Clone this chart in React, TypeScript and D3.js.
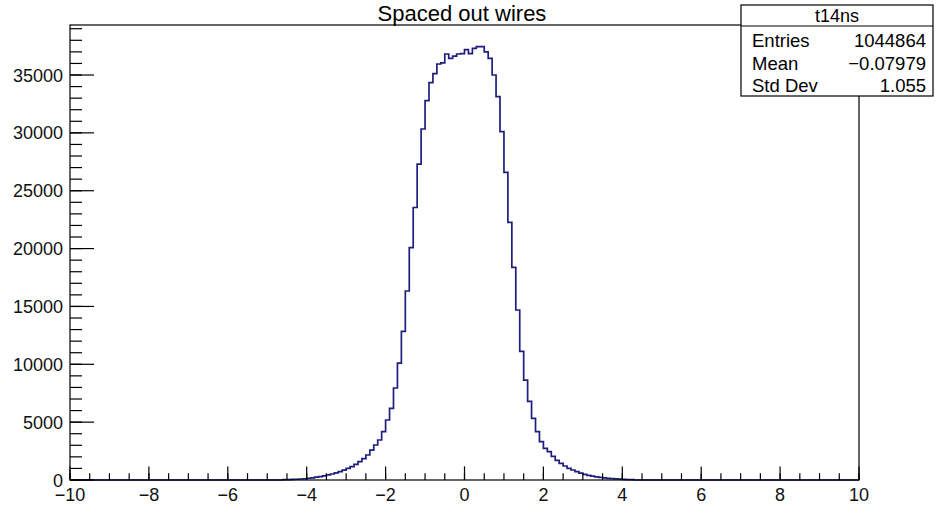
import React from "react";
import * as d3 from "d3";

// ---- Data ----
const titleText = "Spaced out wires";
const histName = "t14ns";
const statLabels = ["Entries", "Mean", "Std Dev"];
const statValues = ["1044864", "\u22120.07979", "1.055"];

const axisMin = -10;
const axisMax = 10;
const binWidth = 0.1;
// first non-empty bin lower edge; all other bins in [-10,10] are empty
const firstFilledEdge = -4.6;
const counts = [
  25, 35, 50, 65, 85, 110, 150, 190, 240, 300,
  360, 440, 520, 620, 730, 860, 1000, 1150, 1350, 1580,
  1850, 2160, 2590, 3025, 3457, 4180, 5185, 6193, 7950, 10100,
  12850, 16333, 20076, 23550, 27300, 30333, 32780, 34335, 35113, 35950,
  36050, 36815, 36440, 36640, 36815, 36850,
  37200, 36850, 37300, 37450, 37450, 37000, 36440, 35000, 33125, 30100,
  26580, 22260, 18380, 14690, 11120, 8640, 6800, 5330, 4180, 3310,
  2740, 2450, 2050, 1700, 1440, 1210, 1010, 865, 720, 590,
  480, 400, 330, 270, 220, 180, 145, 115, 90, 70,
  50, 35, 25,
];

const xMajorTicks = [-10, -8, -6, -4, -2, 0, 2, 4, 6, 8, 10];
const yMajorTicks = [0, 5000, 10000, 15000, 20000, 25000, 30000, 35000];

const fmtTick = (v: number) => (v < 0 ? "\u2212" + Math.abs(v) : String(v));

export default function App() {
  const W = 937;
  const H = 505;
  const left = 70;
  const right = 859;
  const top = 25;
  const bottom = 480;

  const nBins = Math.round((axisMax - axisMin) / binWidth);
  const firstIdx = Math.round((firstFilledEdge - axisMin) / binWidth);
  const bins: [number, number][] = [];
  for (let i = 0; i < nBins; i++) {
    const lo = axisMin + i * binWidth;
    const j = i - firstIdx;
    const c = j >= 0 && j < counts.length ? counts[j] : 0;
    bins.push([lo, c]);
  }
  bins.push([axisMax, 0]);

  const yMax = (d3.max(counts) as number) * 1.05;
  const x = d3.scaleLinear().domain([axisMin, axisMax]).range([left, right]);
  const y = d3.scaleLinear().domain([0, yMax]).range([bottom, top]);

  const line = d3
    .line<[number, number]>()
    .x((d) => x(d[0]))
    .y((d) => y(d[1]))
    .curve(d3.curveStepAfter);
  const histPath = line(bins) || "";

  const xMinor: number[] = [];
  for (let v = axisMin; v <= axisMax + 1e-9; v += 0.5) xMinor.push(v);
  const yMinor: number[] = [];
  for (let v = 0; v <= yMax; v += 1000) yMinor.push(v);

  const font = "'Liberation Sans', Arial, Helvetica, sans-serif";

  // stats box geometry
  const bx = 741, by = 5, bw = 192, bh = 91, hdr = 21;

  return (
    <div style={{ position: "absolute", left: 0, top: 0, width: W, height: H, background: "#fff" }}>
      <svg width={W} height={H} style={{ display: "block" }} fontFamily={font}>
        <rect x={0} y={0} width={W} height={H} fill="#fff" />
        {/* histogram */}
        <path d={histPath} fill="none" stroke="#1e1e7e" strokeWidth={1.7} strokeLinejoin="miter" />
        {/* frame */}
        <rect x={left} y={top} width={right - left} height={bottom - top} fill="none" stroke="#000" strokeWidth={1.2} />
        {/* x ticks */}
        {xMinor.map((v) => (
          <line key={"xm" + v} x1={x(v)} x2={x(v)} y1={bottom} y2={bottom - 6.8} stroke="#000" strokeWidth={1.2} />
        ))}
        {xMajorTicks.map((v) => (
          <line key={"xM" + v} x1={x(v)} x2={x(v)} y1={bottom} y2={bottom - 13.6} stroke="#000" strokeWidth={1.2} />
        ))}
        {xMajorTicks.map((v) => (
          <text key={"xl" + v} x={x(v)} y={501} fontSize={18} textAnchor="middle" fill="#111">
            {fmtTick(v)}
          </text>
        ))}
        {/* y ticks */}
        {yMinor.map((v) => (
          <line key={"ym" + v} x1={left} x2={left + 12} y1={y(v)} y2={y(v)} stroke="#000" strokeWidth={1.2} />
        ))}
        {yMajorTicks.map((v) => (
          <line key={"yM" + v} x1={left} x2={left + 24} y1={y(v)} y2={y(v)} stroke="#000" strokeWidth={1.2} />
        ))}
        {yMajorTicks.map((v) => (
          <text key={"yl" + v} x={63} y={y(v) + 6.5} fontSize={18} textAnchor="end" fill="#111">
            {fmtTick(v)}
          </text>
        ))}
        {/* title */}
        <text x={462} y={20.5} fontSize={22} textAnchor="middle" fill="#000">
          {titleText}
        </text>
        {/* stats box */}
        <rect x={bx} y={by} width={bw} height={bh} fill="#fff" stroke="#000" strokeWidth={1.2} />
        <line x1={bx} x2={bx + bw} y1={by + hdr} y2={by + hdr} stroke="#000" strokeWidth={1.2} />
        <text x={bx + bw / 2} y={21.5} fontSize={18} textAnchor="middle" fill="#000">
          {histName}
        </text>
        {statLabels.map((s, i) => (
          <text key={"sl" + i} x={752} y={47 + i * 22.5} fontSize={18.5} fill="#000">
            {s}
          </text>
        ))}
        {statValues.map((s, i) => (
          <text key={"sv" + i} x={926} y={47 + i * 22.5} fontSize={18.5} textAnchor="end" fill="#000">
            {s}
          </text>
        ))}
      </svg>
    </div>
  );
}
